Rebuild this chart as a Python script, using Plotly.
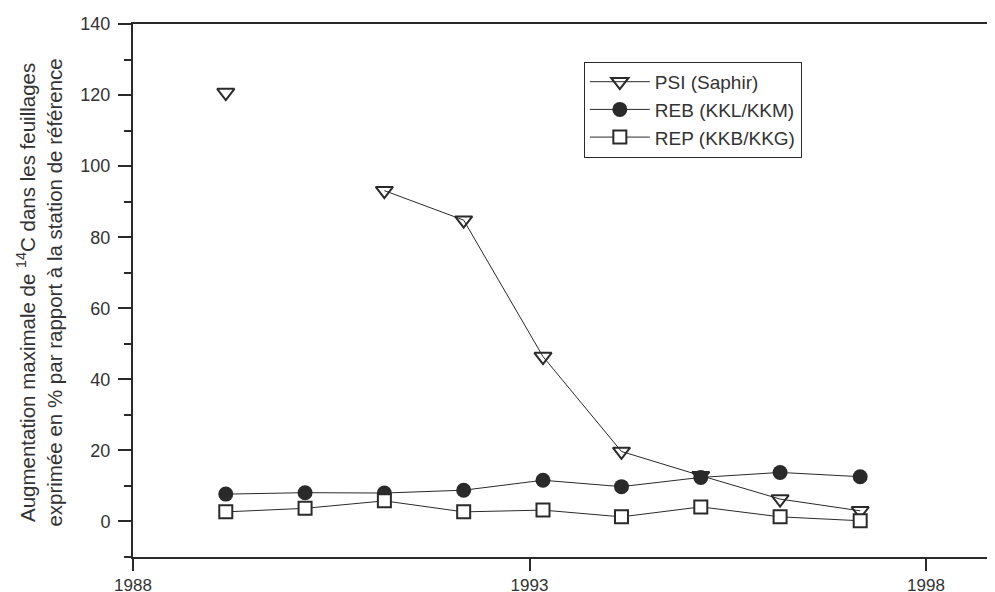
import plotly.graph_objects as go

years = [1989.17, 1990.17, 1991.17, 1992.17, 1993.17, 1994.16, 1995.16, 1996.16, 1997.17]
psi = [120.7, None, 93.1, 84.8, 46.4, 19.7, 12.9, 6.3, 3.0]
reb = [7.7, 8.1, 8.0, 8.8, 11.6, 9.8, 12.4, 13.8, 12.6]
rep = [2.7, 3.7, 5.8, 2.7, 3.2, 1.3, 4.1, 1.3, 0.2]
series_names = ["PSI (Saphir)", "REB (KKL/KKM)", "REP (KKB/KKG)"]
x_ticks = [1988, 1993, 1998]
y_ticks = [0, 20, 40, 60, 80, 100, 120, 140]

ink = "#2a2a2a"
txt = "#333333"
font_family = "Liberation Sans, Arial, sans-serif"

fig = go.Figure()
fig.add_trace(go.Scatter(
    x=years, y=psi, name=series_names[0], mode="lines+markers",
    connectgaps=False, legendgroup="a",
    line=dict(color=ink, width=1),
    marker=dict(symbol="triangle-down-open", size=15, color=ink, line=dict(width=2, color=ink)),
))
fig.add_trace(go.Scatter(
    x=years, y=reb, name=series_names[1], mode="lines+markers",
    legendgroup="b",
    line=dict(color=ink, width=1),
    marker=dict(symbol="circle", size=15, color=ink, line=dict(width=0)),
))
fig.add_trace(go.Scatter(
    x=years, y=rep, name=series_names[2], mode="lines+markers",
    legendgroup="c",
    line=dict(color=ink, width=1),
    marker=dict(symbol="square", size=13, color="white", line=dict(width=2, color=ink)),
))

fig.update_layout(
    width=995, height=592,
    margin=dict(l=125, r=8, t=16, b=43),
    paper_bgcolor="white", plot_bgcolor="white",
    font=dict(family=font_family, size=18, color=txt),
    showlegend=True,
    legend=dict(
        x=0.523, y=0.929, xanchor="left", yanchor="top",
        bordercolor=ink, borderwidth=1, bgcolor="white",
        font=dict(size=19, color=txt),
        tracegroupgap=0, itemwidth=60,
    ),
    xaxis=dict(
        range=[1988, 1998.87], tickvals=x_ticks, ticktext=[str(t) for t in x_ticks],
        showgrid=False, zeroline=False, automargin=False,
        showline=True, linecolor=ink, linewidth=2, mirror=True,
        ticks="outside", ticklen=12, tickwidth=2, tickcolor=ink,
        ticklabelstandoff=0, tickfont=dict(size=17),
    ),
    yaxis=dict(
        range=[-10, 140], tickvals=y_ticks,
        showgrid=False, zeroline=False, automargin=False,
        showline=True, linecolor=ink, linewidth=2,
        ticks="outside", ticklen=13, tickwidth=2, tickcolor=ink,
        ticklabelstandoff=4,
        minor=dict(dtick=10, tick0=0, ticks="outside", ticklen=7, tickwidth=2, tickcolor=ink, showgrid=False),
    ),
    annotations=[dict(
        xref="paper", yref="paper", x=-0.1085, y=0.497,
        xanchor="center", yanchor="middle", textangle=-90, showarrow=False,
        text="Augmentation maximale de <sup>14</sup>C dans les feuillages<br>exprimée en % par rapport à la station de référence",
        font=dict(size=20.5, color=txt),
    )],
)

fig.write_html("out.html")
